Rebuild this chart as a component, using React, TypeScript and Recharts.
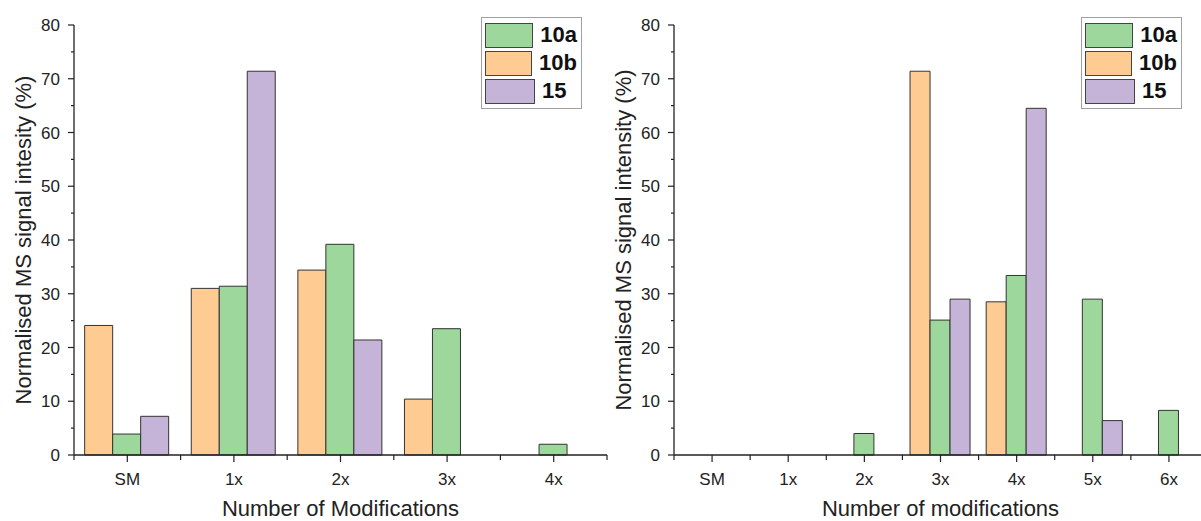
import React from 'react';
import { BarChart, Bar, XAxis, YAxis, Legend } from 'recharts';

// left panel
const modsLeft = ['SM', '1x', '2x', '3x', '4x'];
const left10a = [3.9, 31.4, 39.2, 23.5, 2.0];
const left10b = [24.1, 31.0, 34.4, 10.4, 0];
const left15 = [7.2, 71.4, 21.4, 0, 0];

// right panel
const modsRight = ['SM', '1x', '2x', '3x', '4x', '5x', '6x'];
const right10a = [0, 0, 4.0, 25.1, 33.4, 29.0, 8.3];
const right10b = [0, 0, 0, 71.4, 28.5, 0, 0];
const right15 = [0, 0, 0, 29.0, 64.5, 6.4, 0];

const yTicks = [0, 5, 10, 15, 20, 25, 30, 35, 40, 45, 50, 55, 60, 65, 70, 75, 80];
const legendOrder = ['10a', '10b', '15'];

const COLORS: Record<string, string> = {
  '10a': '#9dd79b',
  '10b': '#fecc92',
  '15': '#c5b4d8',
};

const FONT = '"Liberation Sans", Arial, sans-serif';
const CHART_W = 610;
const CHART_H = 521;
const Y_AXIS_W = 74;
const MARGIN = { top: 25, right: 3, left: 0, bottom: 0 };
const PLOT_W = CHART_W - Y_AXIS_W - MARGIN.right;

const YTick = (props: any) => {
  const { x, y, payload } = props;
  const major = payload.value % 10 === 0;
  return (
    <g>
      <line x1={x - (major ? 6 : 3)} x2={x} y1={y} y2={y} stroke="#222" strokeWidth={1.2} />
      {major && (
        <text x={x - 14} y={y} dy="0.36em" textAnchor="end" fontSize={17} fill="#222" fontFamily={FONT}>
          {payload.value}
        </text>
      )}
    </g>
  );
};

const makeXTick = (band: number) => (props: any) => {
  const { x, y, payload, index } = props;
  return (
    <g>
      <line x1={x} x2={x} y1={y} y2={y + 7} stroke="#222" strokeWidth={1.2} />
      <line x1={x + band / 2} x2={x + band / 2} y1={y} y2={y + 5} stroke="#222" strokeWidth={1.2} />
      {index === 0 && (
        <line x1={x - band / 2} x2={x - band / 2} y1={y} y2={y + 5} stroke="#222" strokeWidth={1.2} />
      )}
      <text x={x} y={y + 30} textAnchor="middle" fontSize={17} fill="#222" fontFamily={FONT}>
        {payload.value}
      </text>
    </g>
  );
};

const LegendBox = () => (
  <div
    style={{
      border: '1px solid #a0a0a0',
      background: '#fff',
      padding: '3px 4px 3px 3px',
      boxSizing: 'border-box',
      fontFamily: FONT,
    }}
  >
    {legendOrder.map((k) => (
      <div key={k} style={{ display: 'flex', alignItems: 'center', height: 28 }}>
        <div
          style={{
            width: 48,
            height: 23,
            background: COLORS[k],
            border: '1.5px solid #444',
            marginRight: 7,
          }}
        />
        <span style={{ fontSize: 22, fontWeight: 'bold', color: '#111' }}>{k}</span>
      </div>
    ))}
  </div>
);

type PanelProps = {
  mods: string[];
  s10a: number[];
  s10b: number[];
  s15: number[];
  yTitle: string;
  xTitle: string;
};

const Panel = ({ mods, s10a, s10b, s15, yTitle, xTitle }: PanelProps) => {
  const data = mods.map((m, i) => ({ name: m, '10a': s10a[i], '10b': s10b[i], '15': s15[i] }));
  const band = PLOT_W / mods.length;
  return (
    <BarChart width={CHART_W} height={CHART_H} data={data} margin={MARGIN} barCategoryGap="10%" barGap={0}>
      <XAxis
        dataKey="name"
        height={CHART_H - 455}
        stroke="#222"
        strokeWidth={1.3}
        tickLine={false}
        tickSize={0}
        tickMargin={0}
        interval={0}
        tick={makeXTick(band)}
        label={{
          value: xTitle,
          position: 'insideBottom',
          offset: 5,
          style: { fontSize: 22, fill: '#222', fontFamily: FONT },
        }}
      />
      <YAxis
        width={Y_AXIS_W}
        domain={[0, 80]}
        ticks={yTicks}
        interval={0}
        stroke="#222"
        strokeWidth={1.3}
        tickLine={false}
        tickSize={0}
        tickMargin={0}
        tick={<YTick />}
        label={{
          value: yTitle,
          angle: -90,
          position: 'insideLeft',
          offset: 23,
          style: { fontSize: 22, fill: '#222', fontFamily: FONT, textAnchor: 'middle' },
        }}
      />
      <Legend
        layout="horizontal"
        verticalAlign="middle"
        align="center"
        wrapperStyle={{ left: 481, top: 17, width: 101 }}
        content={() => <LegendBox />}
      />
      <Bar dataKey="10b" fill={COLORS['10b']} stroke="#333" strokeWidth={1} isAnimationActive={false} />
      <Bar dataKey="10a" fill={COLORS['10a']} stroke="#333" strokeWidth={1} isAnimationActive={false} />
      <Bar dataKey="15" fill={COLORS['15']} stroke="#333" strokeWidth={1} isAnimationActive={false} />
    </BarChart>
  );
};

export default function App() {
  return (
    <div
      style={{
        position: 'absolute',
        left: 0,
        top: 0,
        width: 1201,
        height: 521,
        overflow: 'hidden',
        background: '#fff',
      }}
    >
      <div style={{ position: 'absolute', left: 0, top: 0 }}>
        <Panel
          mods={modsLeft}
          s10a={left10a}
          s10b={left10b}
          s15={left15}
          yTitle="Normalised MS signal intesity (%)"
          xTitle="Number of Modifications"
        />
      </div>
      <div style={{ position: 'absolute', left: 600, top: 0 }}>
        <Panel
          mods={modsRight}
          s10a={right10a}
          s10b={right10b}
          s15={right15}
          yTitle="Normalised MS signal intensity (%)"
          xTitle="Number of modifications"
        />
      </div>
    </div>
  );
}
